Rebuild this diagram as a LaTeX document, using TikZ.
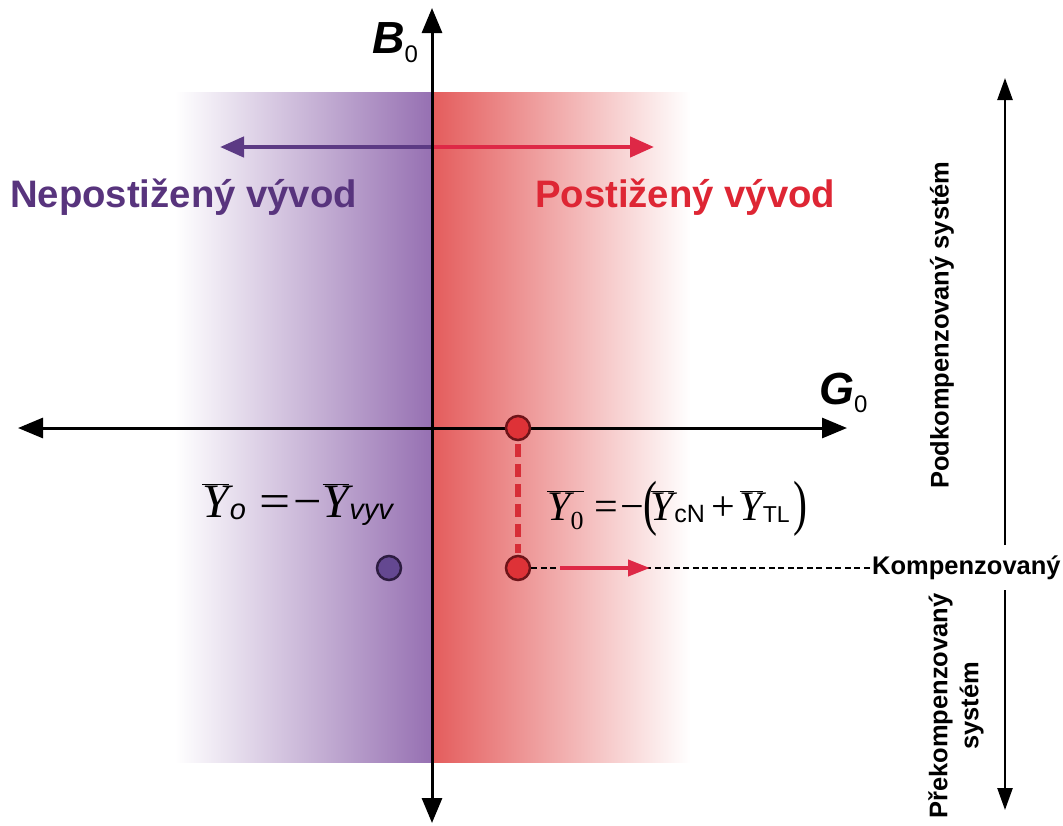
\documentclass[tikz,border=0pt]{standalone}
\usepackage{fontspec}
\usepackage{graphicx}
\setmainfont{Liberation Sans}
\newfontfamily\tnr{Liberation Serif}
\usetikzlibrary{arrows.meta}
\definecolor{purp}{RGB}{88,52,125}
\definecolor{purpband}{RGB}{150,112,178}
\definecolor{redtxt}{RGB}{222,38,52}
\definecolor{redband}{RGB}{228,92,92}
\definecolor{redmid}{RGB}{236,145,145}
\definecolor{redarr}{RGB}{222,40,70}
\definecolor{purparr}{RGB}{92,58,132}
\definecolor{dotred}{RGB}{222,50,55}
\definecolor{dotredline}{RGB}{110,20,25}
\definecolor{dotpurp}{RGB}{100,72,145}
\definecolor{dotpurpline}{RGB}{45,28,65}
\definecolor{dashred}{RGB}{215,45,55}
\newcommand{\oY}[1][40]{\ensuremath{\overline{\mbox{\fontsize{#1}{#1}\selectfont\tnr\itshape Y}}}}
\tikzset{
  axisline/.style={line width=3pt, black, {Triangle[length=25pt,width=20pt]}-{Triangle[length=25pt,width=20pt]}},
  sidearrow/.style={line width=2.5pt, black, -{Triangle[length=22pt,width=15pt]}},
  bandarrow/.style={line width=4.5pt, -{Triangle[length=24pt,width=20pt]}},
  bigtext/.style={font=\fontsize{38.3}{38.3}\selectfont\bfseries, inner sep=0pt, anchor=base west},
  sidetext/.style={font=\fontsize{25.5}{31}\selectfont\bfseries, inner sep=0pt},
  reddot/.style={circle, draw=dotredline, fill=dotred, line width=2.5pt, minimum size=24pt, inner sep=0pt},
  purpdot/.style={circle, draw=dotpurpline, fill=dotpurp, line width=2.5pt, minimum size=24pt, inner sep=0pt},
  eqtext/.style={inner sep=0pt, anchor=base west},
  axlabel/.style={inner sep=0pt, anchor=base west}
}
\begin{document}
\begin{tikzpicture}[x=1pt,y=-1pt]
\useasboundingbox (0,0) rectangle (1063,825);
% bands
\shade[left color=white, right color=purpband] (175,92) rectangle (432,762);
\shade[left color=redband, middle color=redmid, right color=white] (432,92) rectangle (690,762);
% band arrows
\coordinate (bc) at (432,147);
\coordinate (bl) at (220,147);
\coordinate (br) at (654,147);
\draw[bandarrow, purparr] (bc) -- (bl);
\draw[bandarrow, redarr] (bc) -- (br);
% axes
\coordinate (xl) at (18,428);
\coordinate (xr) at (847,428);
\coordinate (yt) at (432,8);
\coordinate (yb) at (432,823);
\draw[axisline] (xl) -- (xr);
\draw[axisline] (yb) -- (yt);
% axis labels
\node[axlabel] (B) at (372,53) {\fontsize{45}{45}\selectfont\bfseries\itshape B\raisebox{-0.2em}{\fontsize{24}{24}\selectfont\upshape\mdseries 0}};
\node[axlabel] (G) at (819,404) {\fontsize{45}{45}\selectfont\bfseries\itshape G\raisebox{-0.18em}{\fontsize{24}{24}\selectfont\upshape\mdseries 0}};
% big labels
\node[bigtext, text=purp] (nep) at (10,207) {Nepostižený vývod};
\node[bigtext, text=redtxt] (post) at (535,207) {Postižený vývod};
% dots
\node[reddot] (p1) at (518,428) {};
\node[reddot] (p2) at (518,568) {};
\node[purpdot] (q) at (389,568) {};
% red dashed vertical
\draw[dashred, line width=6.5pt, dash pattern=on 13pt off 7pt] ([yshift=-3pt]p1.south) -- ([yshift=2pt]p2.north);
% compensated line
\node[sidetext, anchor=west] (komp) at (872,568) {Kompenzovaný};
\draw[black, line width=2pt, dash pattern=on 6pt off 3.5pt] (p2.east) -- (komp.west);
\coordinate (ra) at (560,568);
\coordinate (rb) at (650,568);
\draw[redarr, line width=4pt, -{Triangle[length=22pt,width=16pt]}] (ra) -- (rb);
% side arrows
\coordinate (s0) at (1005,545);
\coordinate (s1) at (1005,78);
\coordinate (s2) at (1005,590);
\coordinate (s3) at (1005,810);
\draw[sidearrow] (s0) -- (s1);
\draw[sidearrow] (s2) -- (s3);
\node[sidetext, rotate=90] (pod) at (942,325) {Podkompenzovaný systém};
\node[sidetext, rotate=90, align=center] (pre) at (956,706) {Překompenzovaný\\systém};
% equations
\node[eqtext] (eq1) at (202,517) {\oY[48]\kern1pt\raisebox{-0.2em}{\fontsize{29}{29}\selectfont\itshape o}\kern13pt{\fontsize{48}{48}\selectfont\tnr\scalebox{1.15}[1]{=}\kern3pt\scalebox{1.05}[1]{−}}\kern1pt\oY[48]\raisebox{-0.2em}{\fontsize{29}{29}\selectfont\itshape vyv}};
\node[eqtext] (eq2) at (547,520) {\ensuremath{\overline{\mbox{\fontsize{42}{42}\selectfont\tnr\itshape Y\raisebox{-0.22em}{\fontsize{26}{26}\selectfont\upshape 0}}}}\kern11pt{\fontsize{42}{42}\selectfont\tnr =\kern2pt−\raisebox{-0.08em}{\scalebox{1}[1.45]{(}}}\kern-7pt\oY[42]\raisebox{-0.2em}{\fontsize{25}{25}\selectfont cN}\kern7pt{\fontsize{42}{42}\selectfont\tnr +}\kern4pt\oY[42]\raisebox{-0.2em}{\fontsize{23}{23}\selectfont TL}\kern4pt{\fontsize{42}{42}\selectfont\tnr\raisebox{-0.08em}{\scalebox{1}[1.45]{)}}}};
\end{tikzpicture}
\end{document}
